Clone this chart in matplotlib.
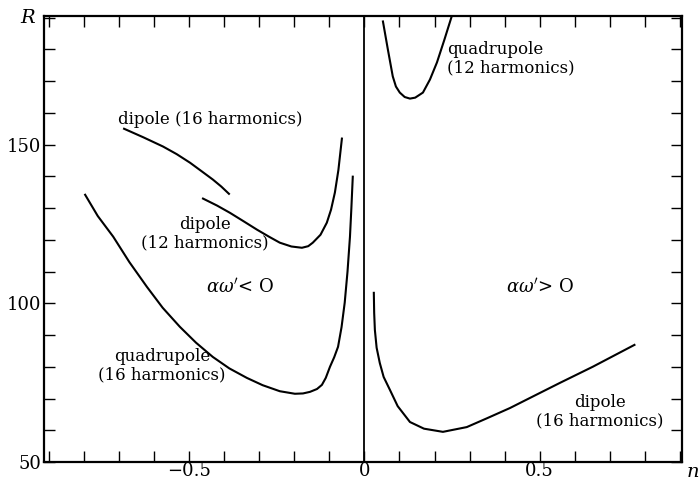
import numpy as np
import matplotlib
matplotlib.use("Agg")
import matplotlib.pyplot as plt
from matplotlib.ticker import MultipleLocator

plt.rcParams["font.family"] = ["DejaVu Serif"]
plt.rcParams["mathtext.fontset"] = "dejavuserif"

# critical R against n, read curve by curve
dip16_left_n = [-0.685, -0.630, -0.574, -0.535, -0.497, -0.465, -0.432, -0.408, -0.386]
dip16_left_R = [155.0, 152.3, 149.4, 147.0, 144.3, 141.7, 139.0, 136.8, 134.5]

dip12_n = [-0.460, -0.420, -0.383, -0.345, -0.306, -0.272, -0.241, -0.208, -0.178,
           -0.160, -0.147, -0.125, -0.107, -0.095, -0.084, -0.074, -0.064]
dip12_R = [133.0, 130.8, 128.5, 125.9, 123.2, 121.0, 119.1, 117.9, 117.5,
           118.0, 119.1, 121.6, 125.4, 129.5, 134.9, 142.0, 151.9]

quad16_n = [-0.796, -0.760, -0.716, -0.670, -0.620, -0.575, -0.526, -0.480, -0.432,
            -0.385, -0.335, -0.290, -0.241, -0.198, -0.175, -0.155, -0.135, -0.121,
            -0.110, -0.098, -0.086, -0.075, -0.065, -0.056, -0.048, -0.041, -0.037, -0.033]
quad16_R = [134.2, 127.5, 121.0, 113.0, 105.2, 98.6, 92.6, 87.6, 83.1,
            79.5, 76.5, 74.2, 72.3, 71.5, 71.6, 72.1, 73.0, 74.3,
            76.5, 80.0, 83.0, 86.3, 92.5, 100.2, 110.0, 121.0, 130.0, 139.9]

quad12_n = [0.053, 0.067, 0.081, 0.090, 0.101, 0.115, 0.130, 0.145, 0.167, 0.187, 0.207, 0.228, 0.249]
quad12_R = [188.8, 180.0, 171.5, 168.3, 166.4, 165.0, 164.5, 164.8, 166.4, 170.5, 175.9, 183.0, 190.4]

dip16_right_n = [0.027, 0.028, 0.030, 0.035, 0.044, 0.055, 0.073, 0.095, 0.130, 0.170,
                 0.224, 0.292, 0.350, 0.415, 0.485, 0.557, 0.651, 0.770]
dip16_right_R = [103.3, 97.0, 91.6, 86.0, 81.2, 76.8, 72.7, 67.6, 62.6, 60.5,
                 59.5, 61.0, 63.8, 67.0, 70.9, 74.9, 80.0, 86.9]

fig = plt.figure(figsize=(7, 4.8), dpi=100)
ax = fig.add_axes([0.063, 0.0375, 0.911, 0.929])

lw = 1.5
for xs, ys in [(dip16_left_n, dip16_left_R), (dip12_n, dip12_R), (quad16_n, quad16_R),
               (quad12_n, quad12_R), (dip16_right_n, dip16_right_R)]:
    ax.plot(xs, ys, color="black", lw=lw, solid_joinstyle="round")

ax.axvline(0, color="black", lw=1.3)

ax.set_xlim(-0.913, 0.905)
ax.set_ylim(50, 190.5)

ax.set_xticks([-0.5, 0, 0.5])
ax.set_xticklabels(["\u22120.5", "0", "0.5"])
ax.xaxis.set_minor_locator(MultipleLocator(0.1))
ax.set_yticks([50, 100, 150])
ax.yaxis.set_minor_locator(MultipleLocator(10))
ax.tick_params(which="both", direction="in", top=True, right=True,
               length=8, width=1.0, labelsize=13)
ax.tick_params(axis="x", pad=0)
ax.tick_params(axis="y", pad=2)
for s in ax.spines.values():
    s.set_linewidth(1.6)

fs = 12
ax.text(-0.44, 158, "dipole (16 harmonics)", ha="center", va="center", fontsize=fs)
ax.text(-0.455, 122, "dipole\n(12 harmonics)", ha="center", va="center",
        fontsize=fs, linespacing=1.1)
ax.text(-0.577, 80.3, "quadrupole\n(16 harmonics)", ha="center", va="center",
        fontsize=fs, linespacing=1.1)
ax.text(0.235, 177, "quadrupole\n(12 harmonics)", ha="left", va="center",
        fontsize=fs, linespacing=1.1)
ax.text(0.671, 65.8, "dipole\n(16 harmonics)", ha="center", va="center",
        fontsize=fs, linespacing=1.1)
ax.text(-0.355, 105, r"$\alpha\omega'$< O", ha="center", va="center", fontsize=13)
ax.text(0.5, 105, r"$\alpha\omega'$> O", ha="center", va="center", fontsize=13)

fig.text(28 / 700, 1 - 18 / 480, "R", style="italic", fontsize=14, ha="center", va="center")
fig.text(693 / 700, 1 - 472 / 480, "n", style="italic", fontsize=14, ha="center", va="center")

fig.savefig("out.png", dpi=100)
